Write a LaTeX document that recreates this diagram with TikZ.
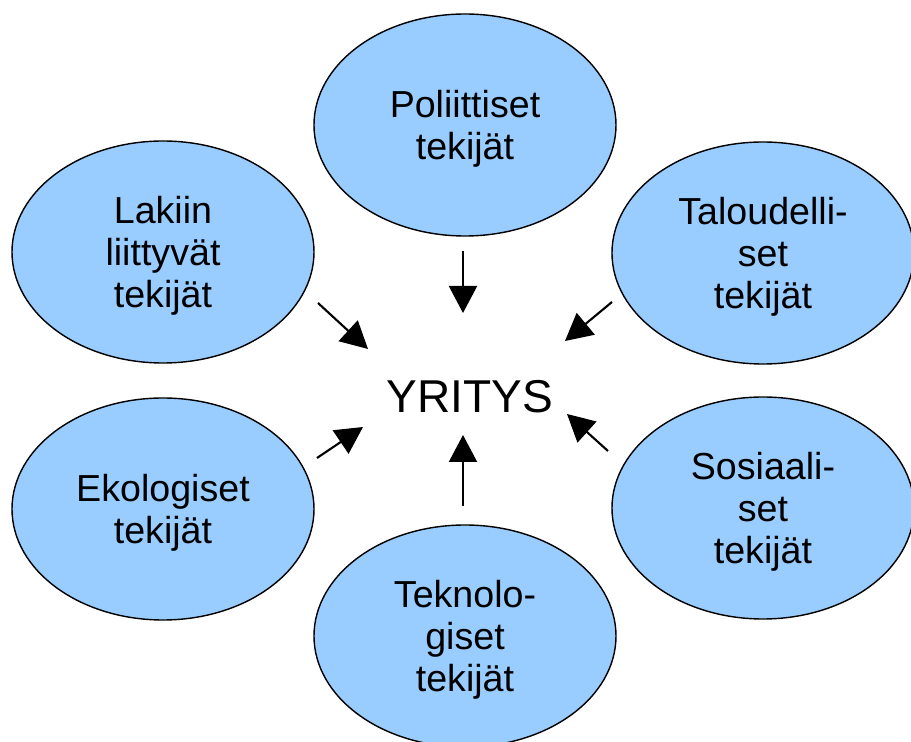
\documentclass[tikz,border=0pt]{standalone}
\usepackage{fontspec}
\setmainfont{Liberation Sans}
\usetikzlibrary{positioning}
\usetikzlibrary{arrows.meta}
\usetikzlibrary{shapes.geometric}

\definecolor{factorblue}{HTML}{99CCFF}

\begin{document}
\begin{tikzpicture}[
        >={Triangle[width=2.8mm,length=2.7mm]},
        factor/.style={ellipse, draw=black, line width=0.4pt, fill=factorblue, minimum width=3.02cm, minimum height=2.22cm, inner sep=0pt, text depth=0pt, align=center, font=\fontsize{10.7}{12}\selectfont},
        influence/.style={->, line width=0.6pt}
    ]
    \useasboundingbox (0,0) rectangle (9.11,-7.42);

        \node [factor] (Pol) at (4.65,-1.25) {Poliittiset\\tekijät};
        \node [factor] (Lak) at (1.63,-2.52) {Lakiin\\liittyvät\\tekijät};
        \node [factor] (Tal) at (7.63,-2.53) {Taloudelli-\\set\\tekijät};
        \node [factor] (Eko) at (1.63,-5.09) {Ekologiset\\tekijät};
        \node [factor] (Sos) at (7.63,-5.08) {Sosiaali-\\set\\tekijät};
        \node [factor] (Tek) at (4.65,-6.36) {Teknolo-\\giset\\tekijät};

        \node [font=\fontsize{13.1}{15}\selectfont, inner sep=0pt] (Yritys) at (4.70,-3.965) {YRITYS};

        % arrow ends
        \coordinate (PolOut) at (4.63,-2.51);
        \coordinate (PolIn)  at (4.63,-3.13);
        \coordinate (TekOut) at (4.63,-5.06);
        \coordinate (TekIn)  at (4.63,-4.35);
        \coordinate (LakOut) at (3.18,-3.03);
        \coordinate (LakIn)  at (3.68,-3.49);
        \coordinate (TalOut) at (6.12,-3.02);
        \coordinate (TalIn)  at (5.65,-3.41);
        \coordinate (EkoOut) at (3.17,-4.58);
        \coordinate (EkoIn)  at (3.63,-4.27);
        \coordinate (SosOut) at (6.08,-4.51);
        \coordinate (SosIn)  at (5.67,-4.14);

        \draw [influence] (PolOut) -- (PolIn);
        \draw [influence] (TekOut) -- (TekIn);
        \draw [influence] (LakOut) -- (LakIn);
        \draw [influence] (TalOut) -- (TalIn);
        \draw [influence] (EkoOut) -- (EkoIn);
        \draw [influence] (SosOut) -- (SosIn);

    \end{tikzpicture}
\end{document}
